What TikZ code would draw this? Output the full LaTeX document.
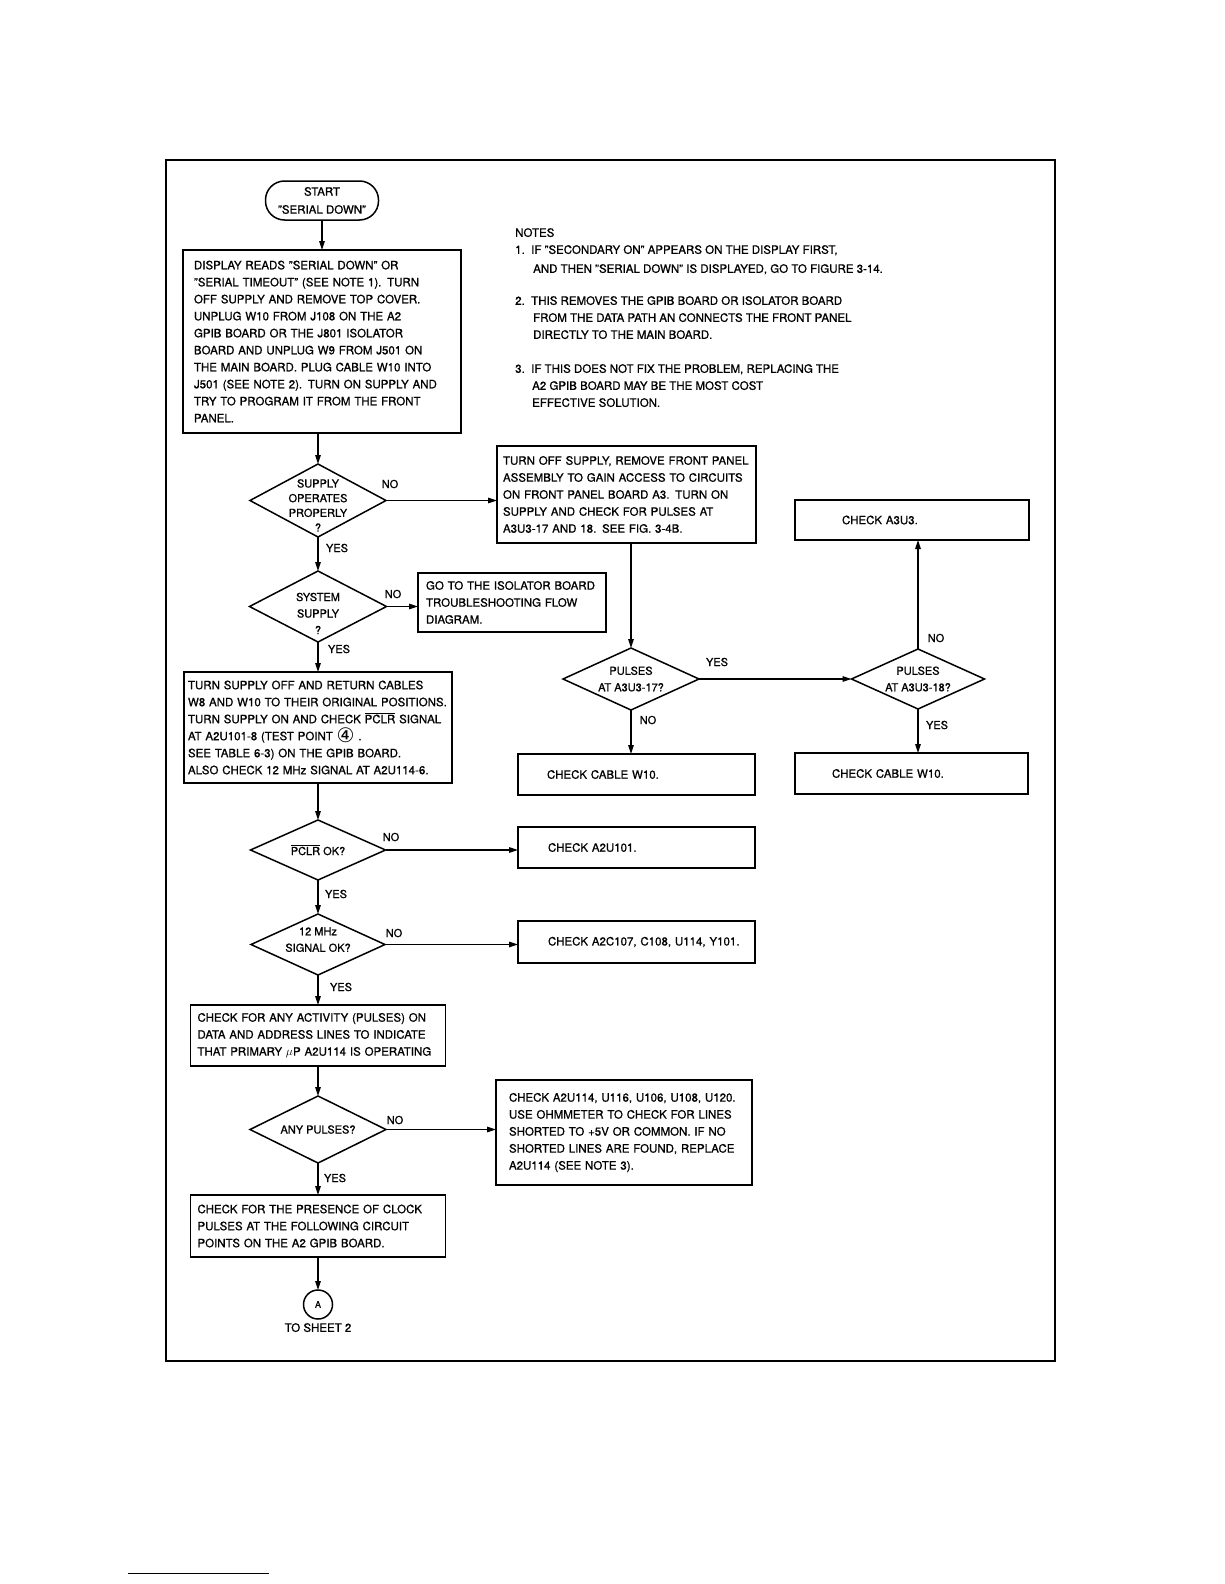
\documentclass[tikz,border=0pt]{standalone}
\usepackage{fontspec}
\setmainfont{TeX Gyre Heros}[FakeBold=0.9]
\newfontfamily\symfont{DejaVu Sans}
\usetikzlibrary{arrows.meta,positioning,shapes.geometric}

\begin{document}
\begin{tikzpicture}[x=1pt, y=1pt,
    every node/.style={font=\fontsize{11.5}{17}\selectfont},
    proc/.style={draw, line width=1.5pt, outer sep=0pt, align=left, inner xsep=7pt, inner ysep=0pt},
    decision/.style={draw, diamond, line width=1.5pt, outer sep=0pt, inner sep=-40pt, align=center,
      font=\fontsize{11}{16.5}\selectfont},
    lbl/.style={inner sep=0pt, font=\fontsize{11}{13}\selectfont},
    flow/.style={-{Triangle[length=9pt, width=5.5pt]}, line width=1.4pt}]
  \useasboundingbox (0,0) rectangle (1224,-1584);
  \draw[line width=2.6pt] (166,-160) rectangle (1055,-1361);

  % main column
  \node[draw, line width=1.5pt, outer sep=0pt, rounded corners=19pt, minimum width=113pt,
    minimum height=39pt, align=center, inner sep=0pt, font=\fontsize{11.5}{18}\selectfont]
    (start) at (322,-200.5) {START\\"SERIAL DOWN"};
  \node[proc, below=30pt of start, text width=256pt, inner xsep=11pt, minimum height=183pt] (display)
    {DISPLAY READS "SERIAL DOWN" OR\\
     "SERIAL TIMEOUT" (SEE NOTE 1). TURN\\
     OFF SUPPLY AND REMOVE TOP COVER.\\
     UNPLUG W10 FROM J108 ON THE A2\\
     GPIB BOARD OR THE J801 ISOLATOR\\
     BOARD AND UNPLUG W9 FROM J501 ON\\
     THE MAIN BOARD. PLUG CABLE W10 INTO\\
     J501 (SEE NOTE 2). TURN ON SUPPLY AND\\
     TRY TO PROGRAM IT FROM THE FRONT\\
     PANEL.};
  \node[decision, below=31pt of display, xshift=-4pt, minimum width=136pt, minimum height=73pt,
    font=\fontsize{11}{14.7}\selectfont] (supply)
    {\rule{0pt}{18pt}SUPPLY\\OPERATES\\PROPERLY\\?};
  \node[decision, below=34pt of supply, minimum width=137pt, minimum height=71pt] (system)
    {\rule{0pt}{22pt}SYSTEM\\SUPPLY\\?};
  \node[proc, below=30pt of system, text width=260pt, inner xsep=4pt, minimum height=111pt] (return)
    {TURN SUPPLY OFF AND RETURN CABLES\\
     W8 AND W10 TO THEIR ORIGINAL POSITIONS.\\
     TURN SUPPLY ON AND CHECK $\overline{\mbox{PCLR}}$ SIGNAL\\
     AT A2U101-8 (TEST POINT
     \smash{\raisebox{-2.5pt}{\symfont\fontsize{20}{20}\selectfont ④}} .\\
     SEE TABLE 6-3) ON THE GPIB BOARD.\\
     ALSO CHECK 12 MHz SIGNAL AT A2U114-6.};
  \node[decision, below=37pt of return, minimum width=135pt, minimum height=60pt] (pclr)
    {$\overline{\mbox{PCLR}}$ OK?};
  \node[decision, below=34pt of pclr, minimum width=134pt, minimum height=61pt] (clock)
    {12 MHz\\SIGNAL OK?\rule[-10pt]{0pt}{10pt}};
  \node[proc, below=30pt of clock, text width=241pt, minimum height=61pt] (activity)
    {CHECK FOR ANY ACTIVITY (PULSES) ON\\
     DATA AND ADDRESS LINES TO INDICATE\\
     THAT PRIMARY $\mu$P A2U114 IS OPERATING};
  \node[decision, below=30pt of activity, minimum width=136pt, minimum height=67pt] (pulses)
    {ANY PULSES?};
  \node[proc, below=32pt of pulses, text width=241pt, minimum height=62pt] (presence)
    {CHECK FOR THE PRESENCE OF CLOCK\\
     PULSES AT THE FOLLOWING CIRCUIT\\
     POINTS ON THE A2 GPIB BOARD.};
  \node[draw, circle, line width=1.5pt, outer sep=0pt, minimum size=29pt, inner sep=0pt,
    below=33pt of presence, font=\fontsize{9}{9}\selectfont] (sheetA) {A};
  \node[below=4pt of sheetA, inner sep=0pt] (tosheet) {TO SHEET 2};

  % right side
  \node[proc, text width=247pt, inner xsep=6pt, minimum height=97pt] (frontpanel) at (626.5,-494.5)
    {TURN OFF SUPPLY, REMOVE FRONT PANEL\\
     ASSEMBLY TO GAIN ACCESS TO CIRCUITS\\
     ON FRONT PANEL BOARD A3. TURN ON\\
     SUPPLY AND CHECK FOR PULSES AT\\
     A3U3-17 AND 18. SEE FIG. 3-4B.};
  \node[proc, text width=172pt, inner xsep=8pt, minimum height=59pt] (isolator) at (512,-602.5)
    {GO TO THE ISOLATOR BOARD\\
     TROUBLESHOOTING FLOW\\
     DIAGRAM.};
  \node[decision, minimum width=136pt, minimum height=62pt] (pulses17) at (631,-679)
    {PULSES\\AT A3U3-17?};
  \node[decision, minimum width=133pt, minimum height=60pt] (pulses18) at (918,-679)
    {PULSES\\AT A3U3-18?};
  \node[proc, text width=140pt, inner xsep=47pt, minimum height=40pt] (checkA3U3) at (912,-520)
    {CHECK A3U3.};
  \node[proc, text width=179pt, inner xsep=29pt, minimum height=41pt] (cableA) at (636.5,-774.5)
    {CHECK CABLE W10.};
  \node[proc, text width=159pt, inner xsep=37pt, minimum height=41pt] (cableB) at (911.5,-773.5)
    {CHECK CABLE W10.};
  \node[proc, text width=177pt, inner xsep=30pt, minimum height=41pt] (checkU101) at (636.5,-847.5)
    {CHECK A2U101.};
  \node[proc, text width=207pt, inner xsep=15pt, minimum height=42pt] (checkC107) at (636.5,-942)
    {\hspace*{15pt}CHECK A2C107, C108, U114, Y101.};
  \node[proc, text width=230pt, inner xsep=13pt, minimum height=105pt] (shorted) at (624,-1132.5)
    {CHECK A2U114, U116, U106, U108, U120.\\
     USE OHMMETER TO CHECK FOR LINES\\
     SHORTED TO +5V OR COMMON. IF NO\\
     SHORTED LINES ARE FOUND, REPLACE\\
     A2U114 (SEE NOTE 3).};

  % notes
  \node[anchor=north west, align=left, inner sep=0pt] (notes) at (515,-228)
    {NOTES\\
     \makebox[16pt][l]{1.}IF "SECONDARY ON" APPEARS ON THE DISPLAY FIRST,\\[2pt]
     \hspace*{18pt}AND THEN "SERIAL DOWN" IS DISPLAYED, GO TO FIGURE 3-14.\\[15pt]
     \makebox[16pt][l]{2.}THIS REMOVES THE GPIB BOARD OR ISOLATOR BOARD\\
     \hspace*{18pt}FROM THE DATA PATH AN CONNECTS THE FRONT PANEL\\
     \hspace*{18pt}DIRECTLY TO THE MAIN BOARD.\\[17pt]
     \makebox[16pt][l]{3.}IF THIS DOES NOT FIX THE PROBLEM, REPLACING THE\\
     \hspace*{17pt}A2 GPIB BOARD MAY BE THE MOST COST\\
     \hspace*{17pt}EFFECTIVE SOLUTION.};

  % branch labels
  \node[lbl] (no1) at (390,-484) {NO};
  \node[lbl] (yes1) at (337,-548) {YES};
  \node[lbl] (no2) at (393,-594) {NO};
  \node[lbl] (yes2) at (339,-649) {YES};
  \node[lbl] (yes3) at (717,-662) {YES};
  \node[lbl] (no3) at (648,-720) {NO};
  \node[lbl] (no4) at (936,-638) {NO};
  \node[lbl] (yes4) at (937,-725) {YES};
  \node[lbl] (no5) at (391,-837) {NO};
  \node[lbl] (yes5) at (336,-894) {YES};
  \node[lbl] (no6) at (394,-933) {NO};
  \node[lbl] (yes6) at (341,-987) {YES};
  \node[lbl] (no7) at (395,-1120) {NO};
  \node[lbl] (yes7) at (335,-1178) {YES};

  % connectors
  \draw[flow] (start) -- (display);
  \draw[flow] (display.south -| supply.north) -- (supply.north);
  \draw[flow] (supply.east) -- (supply.east -| frontpanel.west);
  \draw[flow] (supply.south) -- (system.north);
  \draw[flow] (system.east) -- (system.east -| isolator.west);
  \draw[flow] (system) -- (return);
  \draw[flow] (frontpanel.south -| pulses17.north) -- (pulses17.north);
  \draw[flow] (pulses17.east) -- (pulses18.west);
  \draw[flow] (pulses17.south) -- (pulses17.south |- cableA.north);
  \draw[flow] (pulses18.north) -- (pulses18.north |- checkA3U3.south);
  \draw[flow] (pulses18.south) -- (pulses18.south |- cableB.north);
  \draw[flow] (return) -- (pclr);
  \draw[flow] (pclr.east) -- (pclr.east -| checkU101.west);
  \draw[flow] (pclr) -- (clock);
  \draw[flow] (clock.east) -- (clock.east -| checkC107.west);
  \draw[flow] (clock) -- (activity);
  \draw[flow] (activity) -- (pulses);
  \draw[flow] (pulses.east) -- (pulses.east -| shorted.west);
  \draw[flow] (pulses) -- (presence);
  \draw[flow] (presence) -- (sheetA);

  \draw[line width=1pt] (128,-1573) -- (269,-1573);
\end{tikzpicture}
\end{document}
